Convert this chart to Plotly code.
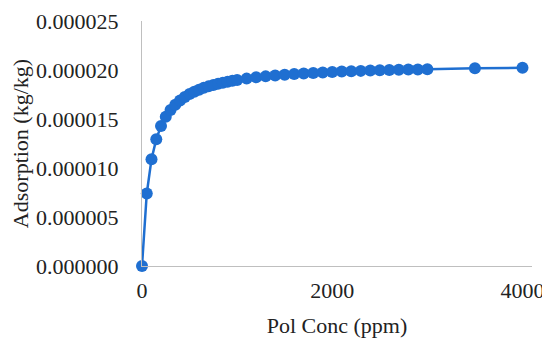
import plotly.graph_objects as go

pol_conc_ppm = [0, 50, 100, 150, 200, 250, 300, 350, 400, 450, 500, 550, 600, 650, 700,
                750, 800, 850, 900, 950, 1000, 1100, 1200, 1300, 1400, 1500, 1600, 1700,
                1800, 1900, 2000, 2100, 2200, 2300, 2400, 2500, 2600, 2700, 2800, 2900,
                3000, 3500, 4000]
adsorption_kg_per_kg = [0.0, 7.40e-6, 1.090e-5, 1.294e-5, 1.428e-5, 1.522e-5, 1.592e-5,
                        1.646e-5, 1.689e-5, 1.725e-5, 1.754e-5, 1.778e-5, 1.799e-5,
                        1.818e-5, 1.833e-5, 1.847e-5, 1.860e-5, 1.871e-5, 1.881e-5,
                        1.890e-5, 1.898e-5, 1.912e-5, 1.925e-5, 1.935e-5, 1.944e-5,
                        1.952e-5, 1.959e-5, 1.965e-5, 1.970e-5, 1.975e-5, 1.980e-5,
                        1.984e-5, 1.987e-5, 1.991e-5, 1.994e-5, 1.997e-5, 2.000e-5,
                        2.002e-5, 2.004e-5, 2.006e-5, 2.008e-5, 2.017e-5, 2.023e-5]
x_ticks = [0, 2000, 4000]
y_ticks = [0.0, 0.000005, 0.000010, 0.000015, 0.000020, 0.000025]

blue = "#1F6FD1"
font = "Liberation Serif, Times New Roman, serif"

fig = go.Figure(go.Scatter(
    x=pol_conc_ppm, y=adsorption_kg_per_kg, mode="lines+markers",
    line=dict(color=blue, width=2.5),
    marker=dict(color=blue, size=12),
    cliponaxis=False, showlegend=False,
))

# the page body adds an 8px offset, margins compensate for it
fig.update_layout(
    width=550, height=344,
    margin=dict(l=134, r=26, t=13, b=86),
    paper_bgcolor="white", plot_bgcolor="white",
    font=dict(family=font, size=22, color="#222222"),
)
fig.update_xaxes(
    range=[0, 4100], tickvals=x_ticks, ticktext=[str(v) for v in x_ticks],
    showgrid=False, zeroline=False, showline=True, linecolor="#BFBFBF", linewidth=1.3,
    ticks="", ticklabelstandoff=4, automargin=False, ticklabeloverflow="allow",
    title=dict(text="Pol Conc (ppm)", font=dict(size=22), standoff=16),
)
fig.update_yaxes(
    range=[0, 0.000025], tickvals=y_ticks, tickformat=".6f",
    showgrid=False, zeroline=False, showline=True, linecolor="#BFBFBF", linewidth=1.3,
    ticks="", ticklabelstandoff=18, automargin=False, ticklabeloverflow="allow",
    title=dict(text="Adsorption (kg/kg)", font=dict(size=22), standoff=6),
)

fig.write_html("out.html")
